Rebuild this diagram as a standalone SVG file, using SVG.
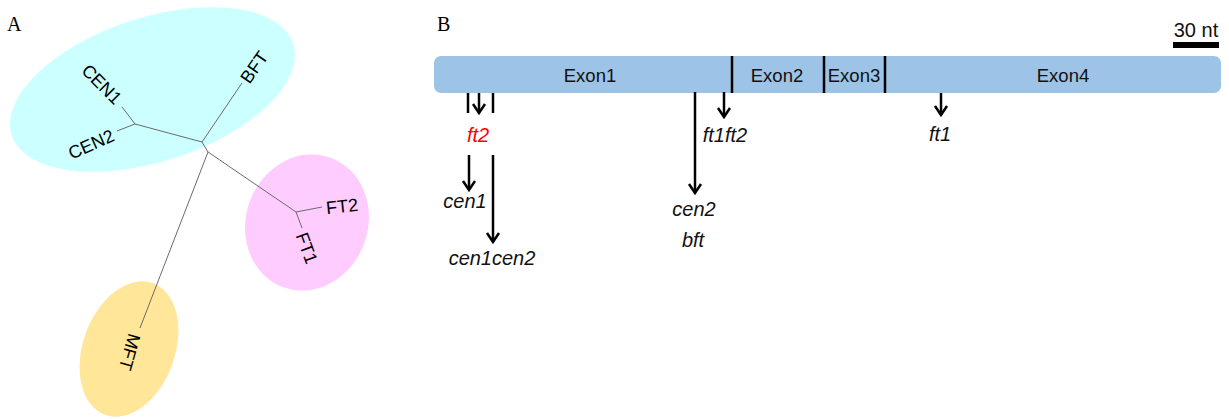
<svg xmlns="http://www.w3.org/2000/svg" width="1229" height="419" viewBox="0 0 1229 419">
<style>
.panel{font-family:"Liberation Serif","Times New Roman",serif;font-size:20px;fill:#000}
.tl{font-family:"Liberation Sans",Arial,sans-serif;font-size:18px;fill:#000;text-anchor:middle}
.br{fill:none;stroke:#6b6b6b;stroke-width:1}
.ex{font-family:"Liberation Sans",Arial,sans-serif;font-size:18.5px;fill:#111;text-anchor:middle}
.mu{font-family:"Liberation Sans",Arial,sans-serif;font-size:20px;font-style:italic;fill:#111;text-anchor:middle}
.ar{stroke:#000;stroke-width:2.5;fill:none}
.dv{stroke:#000;stroke-width:2.5}
</style>
<defs>
<marker id="ah" viewBox="-12 -8 14 16" markerWidth="14" markerHeight="16" refX="0" refY="0" orient="auto" markerUnits="userSpaceOnUse">
<path d="M-9,-6 L0,0 L-9,6" fill="none" stroke="#000" stroke-width="2.5"/>
</marker>
</defs>
<rect width="1229" height="419" fill="#fff"/>

<!-- Panel A -->
<text class="panel" x="7" y="31">A</text>
<g id="clade-cen-bft"><ellipse cx="152.5" cy="89.5" rx="148" ry="72" transform="rotate(-18 152.5 89.5)" fill="#CCFFFF"/></g>
<g id="clade-ft"><ellipse cx="307" cy="222.5" rx="61" ry="69" transform="rotate(20 307 222.5)" fill="#FFCCFF"/></g>
<g id="clade-mft"><ellipse cx="129" cy="349" rx="46" ry="70" transform="rotate(20 129 349)" fill="#FFE699"/></g>

<g id="tree-branches">
<polyline class="br" points="122,107 135,124 117,131"/>
<polyline class="br" points="135,124 202,142 242,83"/>
<polyline class="br" points="202,142 208,152 296,212 322,207"/>
<polyline class="br" points="296,212 302,228"/>
<polyline class="br" points="208,152 140,328"/>
</g>

<g id="CEN1"><text class="tl" transform="translate(102,84) rotate(45)" y="6.5">CEN1</text></g>
<g id="CEN2"><text class="tl" transform="translate(91,144) rotate(-24)" y="6.5">CEN2</text></g>
<g id="BFT"><text class="tl" transform="translate(254,67) rotate(-55)" y="6.5">BFT</text></g>
<g id="FT2"><text class="tl" transform="translate(342,206) rotate(-6)" y="6.5">FT2</text></g>
<g id="FT1"><text class="tl" transform="translate(307,248) rotate(70)" y="6.5">FT1</text></g>
<g id="MFT"><text class="tl" transform="translate(130,352) rotate(106)" y="6.5">MFT</text></g>

<!-- Panel B -->
<text class="panel" x="437" y="31">B</text>
<g id="scale">
<text x="1196" y="37" font-family="Liberation Sans, Arial, sans-serif" font-size="20" text-anchor="middle" fill="#111">30 nt</text>
<rect x="1173" y="42" width="46" height="6" fill="#000"/>
</g>
<g id="gene">
<rect x="434" y="56" width="787" height="37" rx="7" fill="#9DC3E6"/>
<line class="dv" x1="732" y1="56" x2="732" y2="93"/>
<line class="dv" x1="824" y1="56" x2="824" y2="93"/>
<line class="dv" x1="885" y1="56" x2="885" y2="93"/>
<text class="ex" x="590" y="82">Exon1</text>
<text class="ex" x="777" y="82">Exon2</text>
<text class="ex" x="854" y="82">Exon3</text>
<text class="ex" x="1063" y="82">Exon4</text>
</g>

<g id="connectors">
<line class="ar" x1="468" y1="93" x2="468" y2="113"/>
<line class="ar" x1="493" y1="93" x2="493" y2="113"/>
<line class="ar" x1="479" y1="93" x2="479" y2="113" marker-end="url(#ah)"/>
<line class="ar" x1="469" y1="155" x2="469" y2="190" marker-end="url(#ah)"/>
<line class="ar" x1="493" y1="155" x2="493" y2="242" marker-end="url(#ah)"/>
<line class="ar" x1="695" y1="92" x2="695" y2="193" marker-end="url(#ah)"/>
<line class="ar" x1="724" y1="92" x2="724" y2="117" marker-end="url(#ah)"/>
<line class="ar" x1="941" y1="93" x2="941" y2="115" marker-end="url(#ah)"/>
</g>

<g id="label-ft2"><text class="mu" x="478" y="142" style="fill:#FF0000">ft2</text></g>
<g id="label-cen1"><text class="mu" x="465" y="208">cen1</text></g>
<g id="label-cen1cen2"><text class="mu" x="492" y="265">cen1cen2</text></g>
<g id="label-cen2"><text class="mu" x="694" y="216">cen2</text></g>
<g id="label-bft"><text class="mu" x="693" y="247">bft</text></g>
<g id="label-ft1ft2"><text class="mu" x="725" y="142">ft1ft2</text></g>
<g id="label-ft1"><text class="mu" x="940" y="141">ft1</text></g>
</svg>
